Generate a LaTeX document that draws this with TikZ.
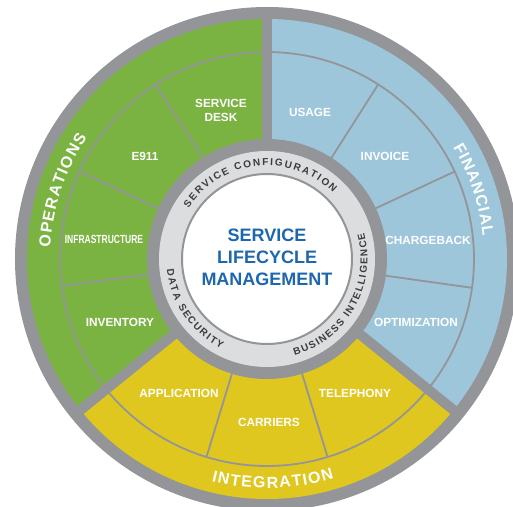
\documentclass[tikz,border=0pt]{standalone}
\usepackage{fontspec}
\setmainfont{Liberation Sans}
\usetikzlibrary{decorations.text}

\definecolor{opsgreen}{HTML}{7AB342}
\definecolor{finblue}{HTML}{9DC6DA}
\definecolor{intyellow}{HTML}{DFC71F}
\definecolor{ringgray}{HTML}{939598}
\definecolor{ringlight}{HTML}{DCDDDF}
\definecolor{coretext}{HTML}{3C3C3E}
\definecolor{slmblue}{HTML}{1C67AE}

\begin{document}
\begin{tikzpicture}[%
    x=1pt, y=1pt,               % one unit = one pixel of the wheel
    ]
% -------------------------------------------------
% Styles for the wheel
\tikzset{
  sep/.style={draw=ringgray, line width=10pt},
  thin/.style={draw=ringgray, line width=1.8pt},
  seg/.style={text=white, align=center, font=\bfseries\fontsize{11.8}{14}\selectfont},
  hub/.style={text=slmblue, align=center, font=\bfseries\fontsize{18}{22}\selectfont},
  band/.style={decorate, decoration={text along path, text align=fit to path,
      text color=white, text={|\bfseries\fontsize{16}{16}\selectfont|#1}}},
  core/.style={decorate, decoration={text along path, text align=fit to path,
      text color=coretext, text={|\bfseries\fontsize{10}{10}\selectfont|#1}}},
}
\useasboundingbox (-267,-247) rectangle (246,259);
\clip (-267,-247) rectangle (246,259);

% -------------------------------------------------
% Rim, coloured wedges and dividers
\fill[ringgray] (0,0) circle (252);
\fill[opsgreen] (0,0) -- (90:240) arc[start angle=90, end angle=219, radius=240] -- cycle;
\fill[finblue] (0,0) -- (-39:240) arc[start angle=-39, end angle=90, radius=240] -- cycle;
\fill[intyellow] (0,0) -- (219:240) arc[start angle=219, end angle=321, radius=240] -- cycle;

\draw[thin] (0,0) circle (207);
\foreach \a in {122.5,155,187.5,57.5,25,-8,253,287}
  \draw[thin] (\a:110) -- (\a:207);
\foreach \a in {90,219,321}
  \draw[sep] (0,0) -- (\a:246);

% Hub rings
\fill[ringgray] (0,0) circle (120);
\fill[ringlight] (0,0) circle (108);
\draw[ringgray, line width=2pt, fill=white] (0,0) circle (85);

% -------------------------------------------------
% Segment labels
\node[seg] (desk) at (-46,149) {SERVICE\\DESK};
\node[seg] (e911) at (-122,103) {E911};
\node[seg] (infra) at (-163,20) {\scalebox{0.72}[1]{INFRASTRUCTURE}};
\node[seg] (inventory) at (-147,-63) {INVENTORY};
\node[seg] (usage) at (43,147) {USAGE};
\node[seg] (invoice) at (118,103) {INVOICE};
\node[seg] (chargeback) at (161,19) {CHARGEBACK};
\node[seg] (optim) at (149,-63) {OPTIMIZATION};
\node[seg] (application) at (-88,-134) {APPLICATION};
\node[seg] (carriers) at (2,-163) {CARRIERS};
\node[seg] (telephony) at (88,-134) {TELEPHONY};

\node[hub] (slm) at (0,2) {SERVICE\\LIFECYCLE\\MANAGEMENT};

% Curved band titles
\path[band=OPERATIONS] (177:217) arc[start angle=177, end angle=146, radius=217];
\path[band=FINANCIAL] (31:217) arc[start angle=31, end angle=6, radius=217];
\path[band=INTEGRATION] (256:229) arc[start angle=256, end angle=287, radius=229];

% Curved hub titles
\path[core=SERVICE CONFIGURATION] (147:93.5) arc[start angle=147, end angle=45, radius=93.5];
\path[core=BUSINESS INTELLIGENCE] (-74:100.5) arc[start angle=-74, end angle=15, radius=100.5];
\path[core=DATA SECURITY] (186:100.5) arc[start angle=186, end angle=243, radius=100.5];

% -------------------------------------------------
\end{tikzpicture}
\end{document}
